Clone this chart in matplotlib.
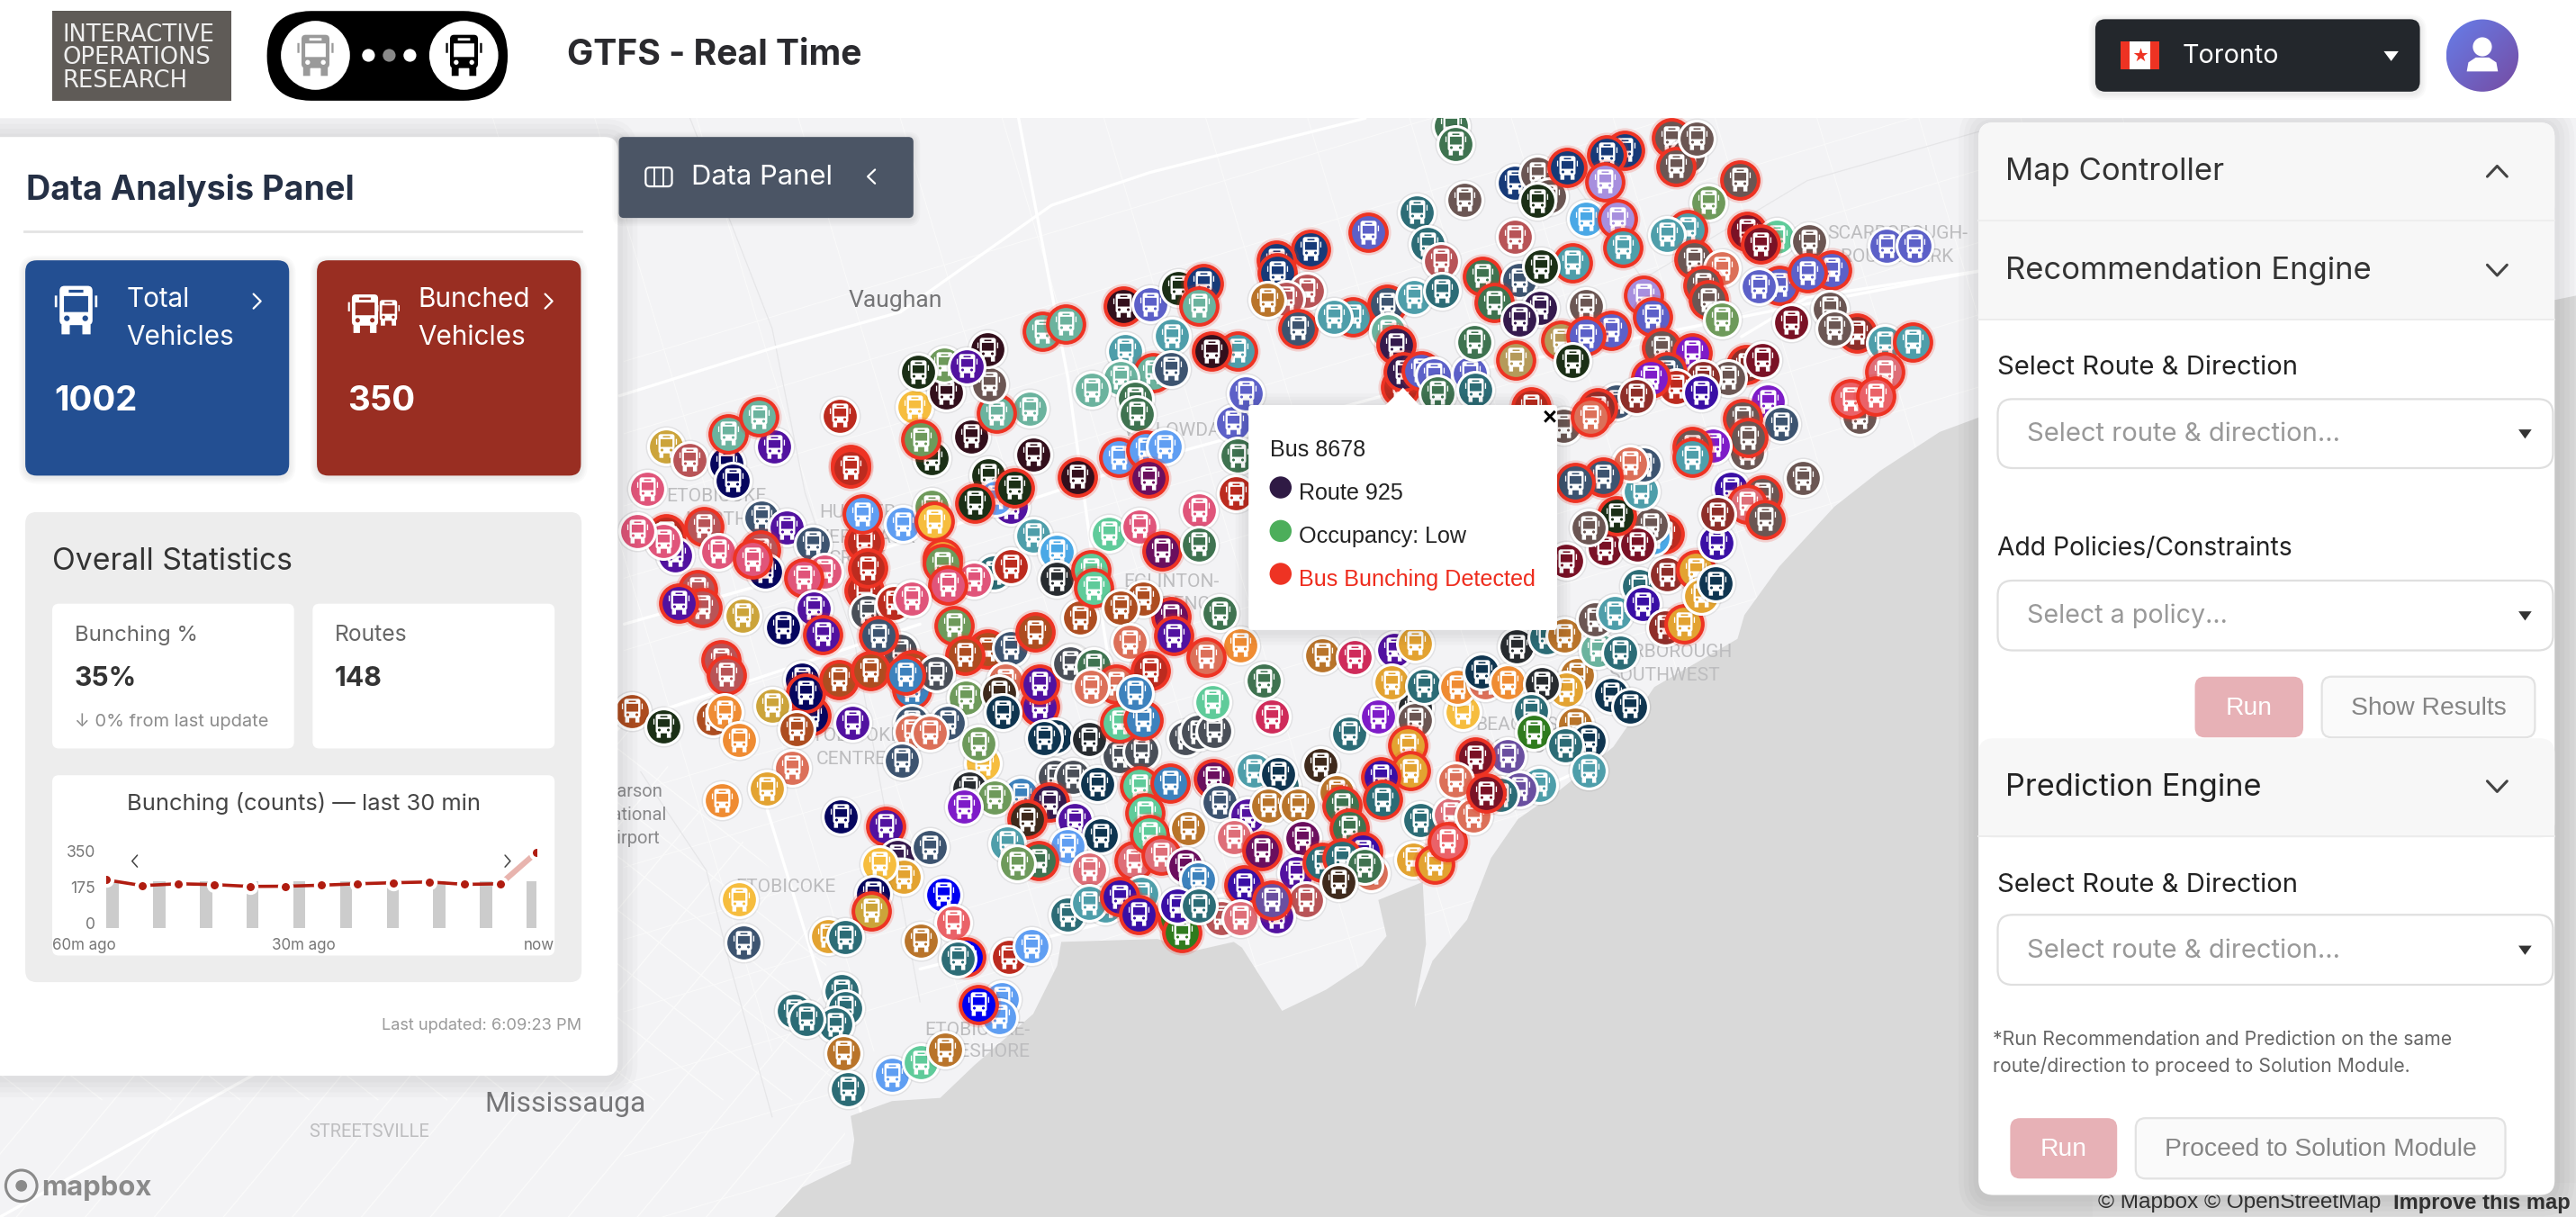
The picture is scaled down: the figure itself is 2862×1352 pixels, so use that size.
import numpy as np
import matplotlib
matplotlib.use("Agg")
import matplotlib.pyplot as plt
from matplotlib.patches import FancyBboxPatch, Polygon, Circle, Rectangle
from matplotlib.path import Path

# ---------- dashboard values ----------
total_vehicles = "1002"
bunched_vehicles = "350"
bunching_pct = "35%"
routes_count = "148"
popup_lines = ["Bus 8678", "Route 925", "Occupancy: Low", "Bus Bunching Detected"]
popup_dots = ["#2f1a44", "#4cae5b", "#ee3323"]

# mini chart
line_counts = [210, 182, 191, 187, 178, 179, 184, 191, 196, 200, 188, 191, 345]
bar_totals = [1002, 1002, 1002, 1002, 1002, 1002, 1002, 1002, 1002, 1002]
y_ticks = [0, 175, 350]

route_colors = {
    'a': '#6bb39e', 'b': '#6e9a5b', 'c': '#bc2b1f', 'd': '#b85457', 'e': '#e0557a', 'f': '#cca43a',
    'g': '#f6bd3e', 'h': '#06065e', 'i': '#5212a0', 'j': '#3d5470', 'k': '#330f1c', 'l': '#1b2f16',
    'm': '#ad4d20', 'n': '#ef8c33', 'o': '#dc7059', 'p': '#5f9ef2', 'q': '#4aa8e6', 'r': '#4e9eaa',
    's': '#2c6c76', 't': '#0f3550', 'u': '#3f7350', 'v': '#6b5653', 'w': '#282c30', 'x': '#3d82bd',
    'y': '#0000f0', 'z': '#5c60c8', '0': '#a78fde', '1': '#7a1226', '2': '#5fcb9a', '3': '#173a78',
    '4': '#b59a5a', '5': '#cf2b5a', '6': '#e3a331', '7': '#b9742a', '8': '#4a4f58', '9': '#351a4d',
    'P': '#6b0f5e', 'L': '#de6e78', 'C': '#ea6268', 'R': '#8e2e2a', 'V': '#6a4fa0', 'B': '#7e1cc8',
    'D': '#3f2a1c', 'I': '#3a0fa5', 'G': '#2f7b1e',
}

# buses, screen position, route key, * = bunched
nw_x = [405.5, 419.7, 442, 471, 443, 461.7, 446, 394, 511.4, 517.8, 517.8, 567, 591, 626.8, 606.4, 556.7, 560.7, 576, 602, 629, 601.8, 615.5, 606, 617.4, 593.6, 655.6]
nw_y = [271.7, 280, 282, 272, 264, 253.8, 292.6, 297.7, 253, 283, 285, 279, 265.7, 249, 251.7, 248, 267.5, 239, 234, 276.7, 289.5, 308.6, 303, 296.8, 306.4, 290.4]
nw_r = "f d h i a* a* h e c c* c* l k a a* g b* k v k l i p l* l* k*".split()

w_x = [405.5, 411, 403.6, 388, 428.3, 437.4, 463.4, 479, 494.6, 463, 465.7, 458, 502, 489.5, 526, 524.6, 549.4, 567, 568.6, 604.6, 592.7, 573.5, 573.5, 576.8, 615.5, 629.2, 643, 643, 526, 528.4, 528, 544.3, 554.9]
w_y = [325, 337.9, 329.6, 323.6, 320.5, 335.7, 315, 321.4, 331, 335, 348, 340.6, 348, 351.6, 329.7, 313.2, 319.2, 308.6, 317.4, 348.8, 352.8, 339.7, 343.3, 356, 344.8, 326, 335.7, 352.5, 359.8, 346, 372.5, 367, 364.4]
w_r = "c* i e e d* e j i j d* h e* e e* c* p* p b g* s e g* b* e* c r q w c* c* 8 c e".split()

wc_x = [424.7, 427.4, 413, 452, 495.3, 476.7, 500.8, 548, 534.8, 580.5, 601, 587.2, 615.5, 630.1, 652, 657.5, 438.7, 442, 488, 493.5, 490.4, 510.5, 530, 555, 555, 569.9, 551.2, 588, 612, 608, 632.9, 632.9]
wc_y = [358.9, 369.8, 367, 374.8, 370.4, 382, 386.3, 396.3, 387.2, 380.8, 395.4, 399, 394.5, 385, 403.6, 376.2, 401.8, 411, 413.7, 435.6, 421.9, 413.7, 408.2, 408, 420, 410, 410.9, 424.6, 414.6, 421.9, 430, 416.4]
wc_r = "d* d* i* f i h i* 8 j* b* m* m* j m* w m d* d* h h* h* m* m* m* x* 8 x* b o D i* i*".split()

sw_x = [384.5, 404, 433.8, 441, 449.7, 469.8, 485, 518.7, 555, 555, 577, 565.8, 548.9, 598, 595.4, 482.2, 466.7, 439.3, 610.4]
sw_y = [432.8, 442.3, 437.4, 433.8, 450.7, 429.6, 443.8, 440, 440, 445.6, 440, 446, 463, 464.8, 452.9, 467.5, 480.3, 487.3, 433.8]
sw_r = "m l m n n f m i j o j o j g b o 6 n t".split()

etob_x = [511.9, 539, 546, 566, 550, 535, 450, 452.4, 531.4, 530.4, 504, 514.6, 574, 580, 560.7, 588, 582.8, 614, 627.8, 610, 608, 595.3, 512, 514.6, 483, 508.3, 491, 513.6, 516, 543, 560.7, 575.4]
etob_y = [497, 503, 521.5, 516, 534, 526, 547.6, 574, 544, 554.4, 570, 570.8, 544.7, 561.7, 572.6, 582.7, 583.6, 582.7, 576.3, 608.3, 619.2, 611.6, 603.7, 613.8, 615.6, 623.8, 620.2, 641.2, 663, 654.5, 647, 639.3]
etob_r = "h i* 9 j 6 g g j h f* 6 s y C 7 y* s c p p p y* s s s s s 7 s p 2 7".split()

cen_x = [642.2, 653.2, 621.4, 590, 605.5, 587, 639, 625, 654.4, 667.9, 670.3, 649.5, 613, 632.4, 619, 663, 690.4, 681.3, 642, 663, 635.6, 694.8, 681.3, 696, 693.5, 697, 699.7, 712.4, 721.7, 729, 739.3]
cen_y = [473, 473, 484, 480, 485.5, 491.3, 488.5, 499, 499.5, 477.6, 508.7, 515, 513.3, 524.2, 525.7, 529.3, 524.2, 460.3, 448.4, 450.2, 449.3, 457.5, 440, 438.4, 478.5, 495, 507.8, 476.7, 449.3, 445.7, 444.8]
cen_r = "8 8 x w b B 9* D* i t t p r u* b L L* 8 t w t 8 2* x* 2* 2* 2* x* 8 8 8".split()

cs_x = [737.6, 738.8, 723, 707, 721.7, 729, 742.5, 759.6, 763.3, 780.4, 778, 771.8, 790, 803.6, 774, 821.5, 838.6, 890.5, 861, 861, 856.7, 858.7, 840.3, 813.4, 817, 841.5, 821.5, 792.6, 751, 768]
cs_y = [474.9, 474, 504, 520.5, 527, 535.2, 488.6, 496.8, 469.4, 478.5, 471.2, 490.4, 490.4, 465.8, 436.5, 446.6, 436.5, 433.8, 431, 438.4, 453.9, 469.4, 473, 482.2, 490.4, 486.8, 504, 510.5, 509.6, 517.8]
cs_r = "s P* 7 L* P x j i r s t 7 7 D 5 s B g w v 6* 6* I* 7 u* s* u* P L P*".split()

shore_x = [789, 757.2, 795, 743.7, 754.7, 776.7, 774.3, 805, 829.3, 817, 834.2, 830.5, 814.6, 859.9, 873.4, 864.8, 883, 881, 649.5, 672.8, 663, 694.8, 681.3, 692.8, 716.8, 719.2, 716.8, 730]
shore_y = [531.5, 538.8, 548, 558.9, 558.9, 558, 548, 525, 518.7, 522.4, 531.5, 527, 537, 523.3, 526, 499.5, 495.9, 512.3, 557, 551.6, 549.8, 544.3, 546, 556.7, 558.9, 568, 551.6, 551.6]
shore_r = "i I* d d L i V* s* I* s* o u D 6 6* s L C* s r r r I* I* G* G* I s".split()

mid_x = [634.7, 648.6, 601, 574.6, 559, 588.5, 685, 683.6, 700.4, 717, 732.5, 729.7, 713.5, 753.5, 737.5, 701.8, 713, 682, 664.6, 690.6, 692, 680.8, 697.6, 708.8, 699, 750.7, 758, 753.5, 752]
mid_y = [201.8, 197.3, 212.8, 221.9, 226.5, 222.8, 213.7, 186.3, 185.4, 175.4, 172.6, 186.3, 204.6, 213.7, 214, 226.9, 224.7, 230, 237.5, 243, 252, 278.6, 274, 272, 291.3, 257.5, 239.3, 277.6, 300.5]
mid_r = "a* a* k b l i r k* z l 3* a* r r* k* a* j a a u u p* p* p P* z z u c".split()

eg_x = [675.2, 693.4, 707.3, 729.7, 729.7, 664, 665.4, 713, 696, 682, 742.3, 687.8, 755, 734, 714.3, 651.4, 665.4, 700.4, 679.4, 664, 690.6, 738, 769]
eg_y = [325, 320.6, 335.2, 310.5, 331.5, 347, 358, 375.4, 364.4, 369.9, 373.5, 390.9, 392.7, 400, 387, 403.7, 405.5, 408.2, 416.5, 418.3, 422, 427.4, 414.6]
eg_r = "2 e P* e u 2* 2* P* m m u o n o* i* 8 u c* o* o x 2 u".split()

be_x = [805, 824.8, 848.5, 861, 847, 866.7, 887.2, 904, 902, 917.7, 923.4, 941, 952.4, 959.8, 953.5, 938.7, 931.8, 980.8, 992.4, 958.7, 933.5, 967.1, 952.8, 967.1, 917.7, 897.7, 936.6, 925, 913.5, 886, 896.7, 904.7]
be_y = [399, 400, 395.5, 391.8, 415.6, 417.4, 418.3, 415.6, 409, 415.6, 393.6, 388, 387.2, 411, 420, 416.5, 433, 423, 430.2, 441, 445.7, 451, 454, 469.4, 460.3, 461.2, 477.7, 480.4, 484, 475, 496.8, 483.1]
be_r = "7 5 i 6 6 s n o t n w s 7 7 6 w s t t 7 G t s r V 1* r V s o o 1*".split()

se_x = [972.4, 986, 970.7, 983, 997.7, 999.8, 1013.4, 1025, 1014.4, 1032.4, 1035.5, 1044, 1045, 953.5, 976.6, 1013, 1006, 1004.6, 996.6, 983.7, 999, 1000.4, 992, 976, 958.5, 967, 1097.4, 1053.6, 1073, 1063.3, 1045.2, 1074.5]
se_y = [395.5, 397.3, 377.2, 373.5, 357, 368, 381.8, 380, 349.8, 347, 362.6, 355.3, 330.6, 341.6, 334, 325, 327, 319.6, 331.5, 314, 299.5, 283, 282, 290.4, 294, 321.4, 291.3, 297.7, 301.3, 306.8, 313.2, 316]
se_r = "a s v r s I R 6* R 6* 6 t I 1 1 c* q v 1 l* r j o j* j* v v I v* L* R v*".split()

n_x = [883, 885.8, 922, 936, 943, 936, 953.7, 989, 978, 976.7, 1017.2, 1027, 1020, 1033, 1059, 1039.6, 891.4, 862.6, 832.7, 797.8, 776.8, 869, 877.4, 922, 965.5, 984.5, 988, 1027, 1014.4, 1063.3, 1081.5, 1071.7, 1101, 1031.2, 1048, 1115, 1083, 1070.3, 1100, 1148.6, 1165.4]
n_y = [76.7, 87.6, 111, 105.9, 119.6, 122.3, 102.2, 91.3, 94, 110.5, 84, 95, 101.3, 84.4, 109.6, 123.3, 121.4, 129.3, 141.5, 151.6, 158.5, 148.8, 158.9, 144.3, 133.3, 133.3, 150.7, 139.7, 143, 140.6, 144.3, 148.8, 147, 158, 163.4, 164.4, 173.5, 174.4, 166.2, 149.7, 149.7]
n_r = "u u 3 v v l 3* 3* 3* 0* v* v v* v v* b v s z* 3* 3* s d d q 0* r* r* r 1* 2 1* v v* o z* z* z z* z z".split()

ne_x = [902.6, 925, 957, 938, 909.6, 937.5, 925, 965.5, 1000.4, 1006, 980.9, 950, 965.5, 957, 1036.8, 1039.6, 1048, 1090, 1113.7, 1130.4, 1116.5, 1147, 1164, 1131.8, 1147, 1126.3, 1141.6, 1076, 1084.3, 1060.5, 1063.3, 1064, 1042.4, 1029.8, 1029.8]
ne_y = [168, 170.7, 159.8, 162.5, 184.4, 187.2, 194.5, 186.3, 179.9, 192.7, 200.9, 207.3, 204.5, 220, 173.5, 182.6, 194.5, 196.3, 188, 202.7, 200, 209, 208.2, 253.8, 226.5, 243, 241, 244.7, 258.4, 254.8, 275.8, 266.6, 271.2, 272, 278.5]
ne_r = "u* j r* l u* 9 9 v 0* z* z* 4* z* l v* v* b 1 v R* v r r* v L* C* C* B j v* v v* B v* r*".split()

c_x = [777.2, 795.4, 782.8, 771.6, 789.8, 823.4, 812.2, 844.3, 860.5, 877.9, 845, 850, 852.7, 854, 865.3, 873, 894.7, 897.5, 922.6, 875, 898, 932, 1011.6, 1029.8, 1062.8, 1073, 1052, 1036.8, 1014.4, 1020, 1004.6, 1035.4, 983.7, 972.5, 951.5, 968.3, 996.2]
c_y = [166.2, 177, 181.7, 182.7, 200, 192.7, 192.7, 185.4, 180.8, 177.2, 201.8, 210, 235.6, 226.5, 225.6, 228.3, 227.4, 208.2, 219.2, 239.3, 237.5, 247.5, 211.8, 214.6, 222, 219, 230, 230, 226.5, 235.6, 230, 239, 244.7, 248.4, 259.3, 254, 241]
c_r = "3* d d 7 j* r* r j* r s a 9* c* 9* z* z z u 4* u s c* v* B* R* 1 v R j* c B* I j R* v o* R".split()

label_text = ["Vaughan", "Mississauga", "STREETSVILLE", "ETOBICOKE", "ETOBICOKE-", "LAKESHORE", "SCARBOROUGH-", "ROUGE PARK",
              "SCARBOROUGH", "SOUTHWEST", "ETOBICOKE", "CENTRE", "ETOBICOKE", "NORTH", "HUMBER", "RIVER-BLACK", "CREEK",
              "WILLOWDALE", "EGLINTON-", "LAWRENCE", "BEACHES-", "EAST YORK", "Pearson", "International", "Airport"]

# ---------- canvas ----------
W, H = 1568.0, 741.0
fig = plt.figure(figsize=(28.62, 13.52), dpi=100)
ax = fig.add_axes([0, 0, 1, 1])
ax.set_xlim(0, W)
ax.set_ylim(H, 0)
ax.axis("off")
ax.set_autoscale_on(False)
UI = ['Inter', 'DejaVu Sans']
HV = ['Liberation Sans', 'DejaVu Sans']
MAPF = ['Roboto', 'DejaVu Sans']


def fs(px):
    return px * 1.314


def T(x, y, s, px, color='#222', ha='left', va='center', weight='normal', family=UI, z=300, **kw):
    return ax.text(x, y + 1.3, s, fontsize=fs(px), color=color, ha=ha, va=va, fontweight=weight, family=family, zorder=z, **kw)


def box(x0, y0, x1, y1, r=6, fc='white', ec='none', lw=0, z=200, shadow=0):
    if shadow:
        for k in range(1, 5):
            d = k * shadow
            ax.add_patch(FancyBboxPatch((x0 - d, y0 - d + 1), x1 - x0 + 2 * d, y1 - y0 + 2 * d,
                                        boxstyle=f"round,pad=0,rounding_size={r + d}", fc='black', ec='none',
                                        alpha=0.02, zorder=z - 0.5))
    ax.add_patch(FancyBboxPatch((x0, y0), x1 - x0, y1 - y0, boxstyle=f"round,pad=0,rounding_size={r}",
                                fc=fc, ec=ec, lw=lw, zorder=z))


def chevron(x, y, w, h, color, lw=1.8, z=300, d='right'):
    if d == 'right':
        xs, ys = [x - w, x + w, x - w], [y - h, y, y + h]
    elif d == 'left':
        xs, ys = [x + w, x - w, x + w], [y - h, y, y + h]
    elif d == 'up':
        xs, ys = [x - w, x, x + w], [y + h, y - h, y + h]
    else:
        xs, ys = [x - w, x, x + w], [y - h, y + h, y - h]
    ax.plot(xs, ys, color=color, lw=lw, zorder=z, solid_capstyle='round', solid_joinstyle='round')


def tri_down(x, y, w, h, color='#333', z=300):
    ax.add_patch(Polygon([[x - w, y - h], [x + w, y - h], [x, y + h]], closed=True, fc=color, ec='none', zorder=z))


# ---------- bus glyph ----------
def rect_path(x0, y0, x1, y1, hole=False):
    v = [(x0, y0), (x1, y0), (x1, y1), (x0, y1), (x0, y0)]
    if hole:
        v = v[::-1]
    return Path(v, [Path.MOVETO, Path.LINETO, Path.LINETO, Path.LINETO, Path.CLOSEPOLY])


def rounded_body(x0, y0, x1, y1, r):
    v = [(x0 + r, y0), (x1 - r, y0), (x1, y0), (x1, y0 + r), (x1, y1 - r), (x1, y1), (x1 - r, y1),
         (x0 + r, y1), (x0, y1), (x0, y1 - r), (x0, y0 + r), (x0, y0), (x0 + r, y0), (x0 + r, y0)]
    c = [Path.MOVETO, Path.LINETO, Path.CURVE3, Path.CURVE3, Path.LINETO, Path.CURVE3, Path.CURVE3,
         Path.LINETO, Path.CURVE3, Path.CURVE3, Path.LINETO, Path.CURVE3, Path.CURVE3, Path.CLOSEPOLY]
    return Path(v, c)


def circle_hole(cx, cy, r):
    t = np.linspace(2 * np.pi, 0, 13)
    v = [(cx + r * np.cos(a), cy + r * np.sin(a)) for a in t]
    return Path(v, [Path.MOVETO] + [Path.LINETO] * 11 + [Path.CLOSEPOLY])


BUS = Path.make_compound_path(
    rounded_body(-0.68, -0.62, 0.68, 1.0, 0.2),
    rect_path(-0.3, 0.72, 0.3, 0.84, hole=True),
    rect_path(-0.5, -0.08, 0.5, 0.58, hole=True),
    circle_hole(-0.38, -0.34, 0.12),
    circle_hole(0.38, -0.34, 0.12),
    rect_path(-0.6, -1.0, -0.26, -0.6),
    rect_path(0.26, -1.0, 0.6, -0.6),
    rect_path(-0.88, 0.12, -0.78, 0.6),
    rect_path(0.78, 0.12, 0.88, 0.6),
)

# ---------- map ----------
ax.add_patch(Rectangle((0, 70), W, H - 70, fc='#f3f3f5', ec='none', zorder=0))
RC = '#fafafa'
for c0 in np.arange(100, 1100, 44):
    ax.plot([380, 1210], [c0 + 120, c0 + 120 - 250], color=RC, lw=0.7, zorder=1)
for c0 in np.arange(300, 1300, 62):
    ax.plot([c0, c0 + 170], [72, 640], color=RC, lw=0.7, zorder=1)
miss = Polygon([[0, 440], [380, 440], [500, 560], [520, 741], [0, 741]], closed=True, transform=ax.transData)
for c0 in np.arange(-200, 900, 42):
    l, = ax.plot([c0, c0 + 320], [741, 741 - 320 * 1.2], color=RC, lw=1.0, zorder=1)
    l.set_clip_path(miss)
    l2, = ax.plot([c0 - 100, c0 + 220], [420, 420 + 320 * 0.78], color=RC, lw=1.0, zorder=1)
    l2.set_clip_path(miss)
highways = [
    ([377, 470, 548, 640, 700, 831], [241, 212, 190, 125, 105, 72]),
    ([380, 520, 700, 900, 1100, 1205], [380, 340, 280, 225, 185, 165]),
    ([467, 501, 525], [493, 603, 680]),
    ([0, 180, 380, 560], [741, 640, 440, 380]),
    ([560, 680, 850, 960], [590, 560, 520, 470]),
    ([620, 650, 665, 700], [72, 230, 340, 560]),
    ([1060, 1100, 1205], [205, 181, 165]),
]
for hx, hy in highways:
    ax.plot(hx, hy, color='white', lw=2.4, zorder=1.2, solid_capstyle='round')
rivers = [([420, 470, 490, 520, 540, 560], [72, 200, 300, 390, 500, 610]),
          ([390, 430, 445, 470], [470, 530, 590, 680]),
          ([950, 1000, 1100, 1205], [100, 170, 110, 80])]
for rx, ry in rivers:
    ax.plot(rx, ry, color='#e6e6e8', lw=0.9, zorder=1.1)

lake = [[471.6, 741], [488.4, 723], [517.8, 708.7], [520, 694], [517.8, 679.5], [543, 670.4], [572.3, 668.5],
        [593.2, 648.5], [628.9, 617.4], [643.5, 588], [646, 573.5], [704.6, 571.7], [726.6, 579], [751, 573.5],
        [756, 577], [780.4, 615.5], [807, 602.7], [829.3, 588], [844, 570], [839, 548], [866, 537], [868, 575],
        [861, 613.7], [872, 585], [893, 560], [907.6, 522.4], [924, 498.7], [950.3, 480.4], [982, 454.8], [1007, 418.3],
        [1057.6, 389], [1061.8, 374.5], [1083, 345], [1116.5, 308.6], [1144.4, 286.7], [1180.7, 263], [1205, 254],
        [1568, 180], [1568, 741]]
ax.add_patch(Polygon(lake, closed=True, fc='#d9d9d9', ec='none', zorder=2))

# map labels
LBL = '#bdbdbf'
def L(x, y, s, px=11.5, color=LBL, **kw):
    T(x, y, s, px, color=color, ha='center', family=MAPF, z=3, **kw)

L(545, 182, label_text[0], 14.5, '#757577')
L(344, 671, label_text[1], 17.5, '#757577')
L(225, 688, label_text[2], 11)
L(478, 539, label_text[3], 11.5)
L(595, 626, label_text[4]); L(595, 639, label_text[5])
L(1155, 141, label_text[6]); L(1155, 155, label_text[7])
L(1013, 396, label_text[8]); L(1013, 410, label_text[9])
L(518, 447, label_text[10]); L(518, 461, label_text[11])
L(436, 301, label_text[12]); L(436, 315, label_text[13])
L(522, 311, label_text[14]); L(522, 326, label_text[15]); L(522, 339, label_text[16])
L(720, 261, label_text[17])
L(713, 353, label_text[18]); L(713, 367, label_text[19])
L(925, 440, label_text[20]); L(925, 454, label_text[21])
L(383, 481, label_text[22], 11, '#8a8a8c'); L(375, 495, label_text[23], 11, '#8a8a8c'); L(385, 509, label_text[24], 11, '#8a8a8c')

# buses
bus_x = nw_x + w_x + wc_x + sw_x + etob_x + cen_x + cs_x + shore_x + mid_x + eg_x + be_x + se_x + n_x + ne_x + c_x
bus_y = nw_y + w_y + wc_y + sw_y + etob_y + cen_y + cs_y + shore_y + mid_y + eg_y + be_y + se_y + n_y + ne_y + c_y
bus_r = nw_r + w_r + wc_r + sw_r + etob_r + cen_r + cs_r + shore_r + mid_r + eg_r + be_r + se_r + n_r + ne_r + c_r

for i, (x, y, key) in enumerate(zip(bus_x, bus_y, bus_r)):
    z = 10 + i * 0.05
    col = route_colors[key[0]]
    bunched = key.endswith('*')
    if bunched:
        ax.scatter([x], [y], s=1300, c='#ee3323', alpha=0.18, linewidths=0, zorder=z)
        ax.scatter([x], [y], s=1040, c='#ee3323', linewidths=0, zorder=z + 0.01)
    else:
        ax.scatter([x], [y], s=1100, c='black', alpha=0.07, linewidths=0, zorder=z)
        ax.scatter([x], [y], s=960, c='white', linewidths=0, zorder=z + 0.01)
    ax.scatter([x], [y], s=700, c=col, linewidths=0, zorder=z + 0.02)
    ax.scatter([x], [y - 0.3], s=360, marker=BUS, c='white', linewidths=0, zorder=z + 0.03)

# popup
POP = 100
box(760, 246.6, 947.8, 383.6, r=2, z=POP, shadow=2)
ax.add_patch(Polygon([[843, 247], [864.2, 247], [854, 236]], closed=True, fc='white', ec='none', zorder=POP))
T(943.3, 253.4, "×", 15, color='black', ha='center', family=HV, weight='bold', z=POP + 1)
T(773.3, 272.8, popup_lines[0], 13.8, color='#222', family=HV, z=POP + 1)
for dy, col in zip([296.8, 323.3, 349.4], popup_dots):
    ax.add_patch(Circle((779.5, dy), 6.7, fc=col, ec='none', zorder=POP + 1))
T(790.7, 298.8, popup_lines[1], 13.8, color='#222', family=HV, z=POP + 1)
T(790.7, 325.2, popup_lines[2], 13.8, color='#222', family=HV, z=POP + 1)
T(790.7, 351.7, popup_lines[3], 13.8, color='#ee2c1d', family=HV, z=POP + 1)

# mapbox marks
ax.add_patch(Circle((13, 722), 9.5, fc='none', ec='#8a8a8a', lw=2.2, zorder=20))
ax.add_patch(Circle((13, 722), 3.5, fc='#8a8a8a', ec='none', zorder=20))
T(25, 722, "mapbox", 17, color='#8a8a8a', weight='bold', z=20)
ax.add_patch(Rectangle((1274, 720), 294, 21, fc='#dcdcdc', ec='none', zorder=150))
T(1277, 731, "© Mapbox © OpenStreetMap", 13.4, color='#333', family=HV, z=160)
T(1457, 731, "Improve this map", 13, color='#333', family=HV, weight='bold', z=160)

# ---------- header ----------
ax.add_patch(Rectangle((0, 0), W, 72, fc='white', ec='none', zorder=180))
ax.add_patch(Rectangle((31.8, 6.7), 109, 54.6, fc='#5f5b57', ec='none', zorder=190))
for yy, s in zip([20, 34, 48], ["INTERACTIVE", "OPERATIONS", "RESEARCH"]):
    T(38, yy, s, 14.2, color='#eeeeee', family=['DejaVu Sans'], z=195)
box(162.5, 6.7, 309, 61.3, r=27, fc='black', z=190)
ax.add_patch(Circle((192, 33.7), 21, fc='white', ec='none', zorder=191))
ax.add_patch(Circle((282.3, 33.7), 21, fc='white', ec='none', zorder=191))
ax.scatter([192], [33.7], s=1080, marker=BUS, c='#9a9a9a', linewidths=0, zorder=192)
ax.scatter([282.3], [33.7], s=1080, marker=BUS, c='black', linewidths=0, zorder=192)
for dx, col in zip([224.3, 236.9, 249.5], ['white', '#8a8a8a', 'white']):
    ax.add_patch(Circle((dx, 33.7), 3.9, fc=col, ec='none', zorder=192))
T(345, 32.5, "GTFS - Real Time", 21.4, color='#2a2a2e', weight='bold')

box(1275.4, 11.7, 1473, 55.8, r=6, fc='#23272c', z=190, shadow=1)
ax.add_patch(Rectangle((1290.8, 25.4), 23.8, 16.9, fc='white', ec='none', zorder=191))
ax.add_patch(Rectangle((1290.8, 25.4), 5.6, 16.9, fc='#ee3323', ec='none', zorder=192))
ax.add_patch(Rectangle((1309, 25.4), 5.6, 16.9, fc='#ee3323', ec='none', zorder=192))
ax.scatter([1302.7], [33.6], s=140, marker='*', c='#ee3323', linewidths=0, zorder=193)
T(1328.6, 32.8, "Toronto", 15.7, color='white')
tri_down(1455.5, 34.2, 4.5, 3, color='white')

grad = np.linspace(0, 1, 64)[None, :] * 0.5 + np.linspace(0, 1, 64)[:, None] * 0.5
av = np.zeros((64, 64, 3))
c1, c2 = np.array([0x66, 0x7e, 0xea]) / 255, np.array([0x76, 0x4b, 0xa2]) / 255
for ch in range(3):
    av[:, :, ch] = c1[ch] * (1 - grad) + c2[ch] * grad
im = ax.imshow(av, extent=(1489, 1533, 56, 12), aspect='auto', zorder=190, interpolation='bilinear')
im.set_clip_path(Circle((1511, 33.8), 22, transform=ax.transData))
ax.set_xlim(0, W)
ax.set_ylim(H, 0)
ax.add_patch(Circle((1511, 28.5), 5.8, fc='white', ec='none', zorder=191))
ax.add_patch(Polygon([[1501.5, 43.5], [1502.5, 38], [1507, 35], [1515, 35], [1519.5, 38], [1520.5, 43.5]],
                     closed=True, fc='white', ec='none', zorder=191))

# ---------- left panel ----------
box(-12, 83.4, 376, 655, r=8, z=170, shadow=3)
T(16, 114.5, "Data Analysis Panel", 20.7, color='#253045', weight='bold', z=175)
ax.plot([15, 354], [141, 141], color='#e3e3e3', lw=2, zorder=175)

box(15.4, 158.5, 176, 289.6, r=7, fc='#234f92', z=172, shadow=1)
box(192.9, 158.5, 353.6, 289.6, r=7, fc='#992e22', z=172, shadow=1)
ax.scatter([46], [188.8], s=1500, marker=BUS, c='white', linewidths=0, zorder=175)
ax.scatter([222], [191], s=950, marker=BUS, c='white', linewidths=0, zorder=175)
ax.scatter([236], [190], s=420, marker=BUS, c='white', linewidths=0, zorder=175)
T(77, 181.2, "Total", 16.3, color='white', z=175)
T(77, 204, "Vehicles", 16.3, color='white', z=175)
T(254.4, 181.2, "Bunched", 16.3, color='white', z=175)
T(254.4, 204, "Vehicles", 16.3, color='white', z=175)
chevron(156.5, 183.4, 2.2, 4.4, 'white', lw=1.6, z=175)
chevron(334, 183.4, 2.2, 4.4, 'white', lw=1.6, z=175)
T(33, 243, total_vehicles, 21, color='white', weight='bold', z=175)
T(211.4, 243, bunched_vehicles, 21, color='white', weight='bold', z=175)

box(15.4, 311.8, 354, 598, r=7, fc='#ededed', z=171)
T(32, 340.5, "Overall Statistics", 18.5, color='#333333', z=175)
box(31.8, 367.6, 179, 455.7, r=4, z=172)
box(190.3, 367.6, 337.6, 455.7, r=4, z=172)
T(45.3, 385.5, "Bunching %", 13.1, color='#666666', z=175)
T(203.5, 385.5, "Routes", 13.5, color='#666666', z=175)
T(45.3, 412, bunching_pct, 16.5, color='#333333', weight='bold', z=175)
T(203.5, 412, routes_count, 16.5, color='#333333', weight='bold', z=175)
T(45.3, 438, "↓ 0% from last update", 11, color='#8c8c8c', z=175)

box(31.8, 472, 337.6, 581.8, r=4, z=172)
T(184.7, 487.6, "Bunching (counts) — last 30 min", 14, color='#444444', ha='center', z=175)
T(32, 574.7, "60m ago", 9.3, color='#777777', z=175)
T(184.7, 574.7, "30m ago", 9.3, color='#777777', ha='center', z=175)
T(337.6, 574.7, "now", 9.3, color='#777777', ha='right', z=175)
T(354, 623, "Last updated: 6:09:23 PM", 10, color='#9a9a9a', ha='right', z=175)

for cx, d in [(82, 'left'), (309, 'right')]:
    ax.add_patch(Circle((cx, 524.3), 13.5, fc='#ffffff', ec='none', zorder=173))
    chevron(cx, 524.3, 1.6, 3.6, '#444444', lw=1.1, z=175, d=d)

# mini chart (bars on their own scale, line on the counts scale)
left_d, right_d = 64.8, 326.6
top_d, bot_d = 516.0, 565.3
rect = [left_d / W, 1 - bot_d / H, (right_d - left_d) / W, (bot_d - top_d) / H]
axb = fig.add_axes(rect, zorder=5)
axb.patch.set_alpha(0)
bar_pos = [0.17 + 1.303 * k for k in range(len(bar_totals))]
axb.bar(bar_pos, bar_totals, width=0.34, color='#cccccc', linewidth=0)
axb.set_xlim(0, 12)
axb.set_ylim(0, 1712)
axb.axis('off')
axl = fig.add_axes(rect, zorder=6)
axl.patch.set_alpha(0)
x_idx = np.arange(len(line_counts))
axl.plot(x_idx[:-1], line_counts[:-1], color='#b01c10', lw=2.6, zorder=2)
axl.plot(x_idx[-2:], line_counts[-2:], color='#e8b4ae', lw=4.5, zorder=1.5)
axl.plot(x_idx, line_counts, ls='none', marker='o', ms=9.5, mfc='#b01c10', mec='white', mew=3, zorder=3)
axl.set_xlim(0, 12)
axl.set_ylim(-28, 369)
axl.set_xticks([])
axl.set_yticks(y_ticks)
axl.set_yticklabels([str(v) for v in y_ticks], fontsize=fs(9.6), color='#777777', family=UI)
axl.tick_params(axis='y', length=0, pad=9)
for sp in axl.spines.values():
    sp.set_visible(False)

# data panel tab
box(376.7, 83.4, 556, 132.7, r=3, fc='#4b5565', z=175, shadow=1)
ax.add_patch(FancyBboxPatch((393, 102), 16, 11.5, boxstyle="round,pad=0,rounding_size=2.5", fc='none', ec='white', lw=1.6, zorder=178))
ax.plot([398.3, 398.3], [102, 113.5], color='white', lw=1.4, zorder=178)
ax.plot([403.7, 403.7], [102, 113.5], color='white', lw=1.4, zorder=178)
T(421, 106.7, "Data Panel", 17, color='white', z=178)
chevron(530.4, 107.5, 2.2, 4.2, 'white', lw=1.6, z=178, d='left')

# ---------- right panel ----------
box(1204.3, 74.6, 1555, 727.6, r=9, z=170, shadow=3)
box(1204.3, 74.6, 1555, 134, r=9, fc='#f7f7f7', z=171)
ax.add_patch(Rectangle((1204.3, 100), 350.7, 34, fc='#f7f7f7', ec='none', zorder=171))
ax.add_patch(Rectangle((1204.3, 134), 350.7, 60.5, fc='#f7f7f7', ec='none', zorder=171))
ax.plot([1204.3, 1555], [134.3, 134.3], color='#eeeeee', lw=1.4, zorder=172)
ax.plot([1204.3, 1555], [194.5, 194.5], color='#ececec', lw=1.4, zorder=172)
T(1220.7, 103.5, "Map Controller", 19, color='#333', z=175)
T(1220.7, 163.7, "Recommendation Engine", 19, color='#333', z=175)
chevron(1520, 104.3, 6, 3.2, '#444', lw=2.2, z=175, d='up')
chevron(1520, 164.5, 6, 3.2, '#444', lw=2.2, z=175, d='down')
T(1215.5, 222.8, "Select Route & Direction", 16, color='#222', z=175)
T(1215.5, 333, "Add Policies/Constraints", 15.5, color='#222', z=175)

def select(y0, y1, s, px):
    box(1216, y0, 1554, y1, r=9, fc='white', ec='#dfdfdf', lw=1.6, z=172)
    T(1234, (y0 + y1) / 2 - 0.8, s, px, color='#999999', z=175)
    tri_down(1537, (y0 + y1) / 2 + 0.3, 4, 2.8, color='#333')

select(243, 285, "Select route & direction...", 16)
select(353.5, 396, "Select a policy...", 15.7)

def button(x0, y0, x1, y1, s, run):
    if run:
        box(x0, y0, x1, y1, r=6, fc='#e7b1b6', z=172)
        T((x0 + x1) / 2, (y0 + y1) / 2 - 0.5, s, 15.5, color='white', ha='center', family=HV, z=175)
    else:
        box(x0, y0, x1, y1, r=6, fc='#fafafa', ec='#e2e2e2', lw=1.6, z=172)
        T((x0 + x1) / 2, (y0 + y1) / 2 - 0.5, s, 15.5, color='#858585', ha='center', family=HV, z=175)

button(1336, 412, 1402, 449, "Run", True)
button(1413.3, 412, 1543, 449, "Show Results", False)
box(1204.3, 449.6, 1555, 510, r=9, fc='#f7f7f7', z=173)
ax.add_patch(Rectangle((1204.3, 480), 350.7, 29, fc='#f7f7f7', ec='none', zorder=173))
ax.plot([1204.3, 1555], [509, 509], color='#ececec', lw=1.4, zorder=174)
T(1220.7, 478, "Prediction Engine", 18.8, color='#222', z=175)
chevron(1520, 478.8, 6, 3.2, '#444', lw=2.2, z=175, d='down')
T(1215.5, 537.5, "Select Route & Direction", 16, color='#222', z=175)
select(557, 599.6, "Select route & direction...", 16)
T(1213, 632, "*Run Recommendation and Prediction on the same", 11.6, color='#666666', z=175)
T(1213, 648, "route/direction to proceed to Solution Module.", 11.6, color='#666666', z=175)
button(1223.6, 680.8, 1288.7, 717.6, "Run", True)
button(1300, 680.8, 1525, 717.6, "Proceed to Solution Module", False)

fig.savefig("out.png", dpi=100)
